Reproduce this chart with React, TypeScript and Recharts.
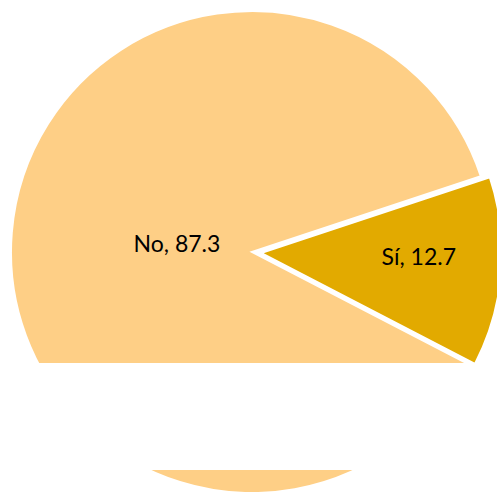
import React from "react";
import { PieChart, Pie, Cell } from "recharts";

const categories = ["Sí", "No"];
const values = [12.7, 87.3];

const data = categories.map((name, i) => ({ name, value: values[i] }));

const COLORS: Record<string, string> = { "Sí": "#E2AA00", "No": "#FECF86" };
const LABEL_POS: Record<string, { r: number; angle: number }> = {
  "No": { r: 0.313, angle: 174 },
  "Sí": { r: 0.655, angle: -1.4 },
};

const W = 497;
const H = 492;
const R = 241;

const makeLabel = (only: string) => (props: any) => {
  const { cx, cy, outerRadius, name, value } = props;
  if (name !== only) return null;
  const p = LABEL_POS[name];
  const rad = (p.angle * Math.PI) / 180;
  const x = cx + outerRadius * p.r * Math.cos(rad);
  const y = cy - outerRadius * p.r * Math.sin(rad);
  return (
    <text
      x={x}
      y={y + 8}
      textAnchor="middle"
      fill="#000"
      fontFamily="Lato, 'Open Sans', sans-serif"
      fontSize={23}
    >
      {`${name}, ${value}`}
    </text>
  );
};

export default function App() {
  return (
    <div style={{ position: "absolute", left: 0, top: 0, width: W, height: H, background: "#fff" }}>
      <PieChart width={W} height={H} margin={{ top: 0, right: 0, bottom: 0, left: 0 }}>
        <Pie
          data={data}
          dataKey="value"
          nameKey="name"
          cx={252}
          cy={252}
          outerRadius={R}
          startAngle={-27.4}
          endAngle={332.6}
          isAnimationActive={false}
          label={makeLabel("No")}
          labelLine={false}
          stroke="#fff"
          strokeWidth={2}
        >
          {data.map((d) => (
            <Cell
              key={d.name}
              fill={d.name === "No" ? COLORS[d.name] : "none"}
              stroke={d.name === "No" ? "#fff" : "none"}
            />
          ))}
        </Pie>
        <Pie
          data={data}
          dataKey="value"
          nameKey="name"
          cx={261}
          cy={253}
          outerRadius={R}
          startAngle={-27.4}
          endAngle={332.6}
          isAnimationActive={false}
          label={makeLabel("Sí")}
          labelLine={false}
          stroke="#fff"
          strokeWidth={2}
        >
          {data.map((d) => (
            <Cell
              key={d.name}
              fill={d.name === "Sí" ? COLORS[d.name] : "none"}
              stroke={d.name === "Sí" ? "#fff" : "none"}
            />
          ))}
        </Pie>
      </PieChart>
      <div
        style={{
          position: "absolute",
          left: 0,
          top: 363,
          width: W,
          height: 107,
          background: "#fff",
        }}
      />
    </div>
  );
}
